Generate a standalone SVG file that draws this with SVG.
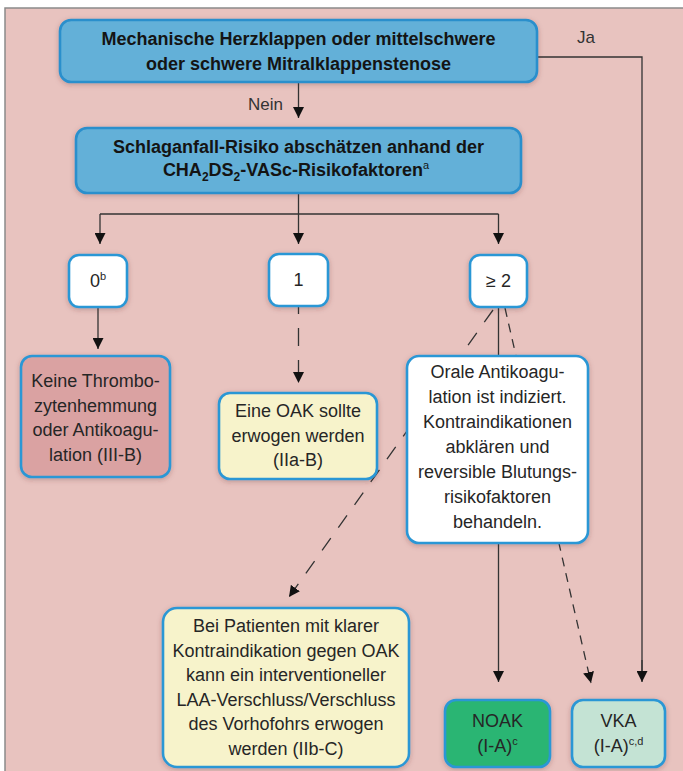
<svg xmlns="http://www.w3.org/2000/svg" width="683" height="771" viewBox="0 0 683 771">
<style>
.bx{stroke:#2b97d5;stroke-width:2.6;filter:url(#sh)}
.hd{fill:#63b0d8;stroke:#2a8fcc}
.ht{font-family:"Liberation Sans",Arial,sans-serif;font-weight:bold;font-size:18px;fill:#141414;text-anchor:middle}
.t{font-family:"Liberation Sans",Arial,sans-serif;font-size:18px;fill:#262626;text-anchor:middle}
.lb{font-family:"Liberation Sans",Arial,sans-serif;font-size:17px;fill:#333}
.ln{fill:none;stroke:#333;stroke-width:1.3}
.ar{marker-end:url(#ah)}
</style>
<defs>
<filter id="sh" x="-15%" y="-15%" width="130%" height="140%">
<feDropShadow dx="0" dy="1.5" stdDeviation="2.5" flood-color="#5a2a2a" flood-opacity="0.3"/>
</filter>
<marker id="ah" viewBox="0 0 10 10" refX="10" refY="5" markerUnits="userSpaceOnUse" markerWidth="11" markerHeight="11" orient="auto">
<path d="M0,0 L10,5 L0,10 z" fill="#111"/>
</marker>
</defs>
<rect x="0" y="0" width="683" height="771" fill="#ffffff"/>
<rect x="5" y="8" width="700" height="790" fill="#e8c3bf" stroke="#8a8a8a" stroke-width="1.5"/>

<g id="connectors">
<line class="ln ar" x1="298.5" y1="82" x2="298.5" y2="118"/>
<polyline class="ln" points="298.5,193 298.5,214"/>
<polyline class="ln" points="100,214 498.5,214"/>
<line class="ln ar" x1="100" y1="214" x2="100" y2="244"/>
<line class="ln ar" x1="298.5" y1="214" x2="298.5" y2="244"/>
<line class="ln ar" x1="498.5" y1="214" x2="498.5" y2="244"/>
<line class="ln ar" x1="98" y1="307" x2="98" y2="349"/>
<line class="ln ar" x1="298.5" y1="307" x2="298.5" y2="383" stroke-dasharray="18 14" stroke-dashoffset="11"/>
<line class="ln ar" x1="498.5" y1="307" x2="498.5" y2="682"/>
<line class="ln ar" x1="505" y1="308" x2="591" y2="683" stroke-dasharray="9 7"/>
<line class="ln ar" x1="493" y1="310" x2="289" y2="597" stroke-dasharray="15 13"/>
<polyline class="ln" points="537,57 642,57 642,672"/>
<line class="ln ar" x1="642" y1="660" x2="642" y2="682"/>
<text class="lb" x="283" y="110" text-anchor="end">Nein</text>
<text class="lb" x="586" y="43" text-anchor="middle">Ja</text>
</g>

<g id="n-klappen">
<rect class="bx hd" x="60" y="20" width="477" height="62" rx="11"/>
<text class="ht" x="298.5" y="45">Mechanische Herzklappen oder mittelschwere</text>
<text class="ht" x="298.5" y="70">oder schwere Mitralklappenstenose</text>
</g>

<g id="n-risiko">
<rect class="bx hd" x="76" y="128" width="445" height="65" rx="11"/>
<text class="ht" x="298.5" y="153">Schlaganfall-Risiko abschätzen anhand der</text>
<text class="ht" x="296" y="176">CHA<tspan dy="5" font-size="12">2</tspan><tspan dy="-5">DS</tspan><tspan dy="5" font-size="12">2</tspan><tspan dy="-5">-VASc-Risikofaktoren</tspan><tspan dy="-7" font-size="11" font-weight="normal">a</tspan></text>
</g>

<g id="n-0">
<rect class="bx" x="69" y="255" width="58" height="52" rx="10" fill="#ffffff"/>
<text class="t" x="98" y="287">0<tspan dy="-7" font-size="11">b</tspan></text>
</g>

<g id="n-1">
<rect class="bx" x="269" y="254" width="59" height="52" rx="10" fill="#ffffff"/>
<text class="t" x="298.5" y="286">1</text>
</g>

<g id="n-2">
<rect class="bx" x="470" y="255" width="57" height="52" rx="10" fill="#ffffff"/>
<text class="t" x="498.5" y="287">≥ 2</text>
</g>

<g id="n-keine">
<rect class="bx" x="21" y="356" width="149" height="121" rx="11" fill="#daa2a2"/>
<text class="t" x="95.5" y="387">Keine Thrombo-</text>
<text class="t" x="95.5" y="411.5">zytenhemmung</text>
<text class="t" x="95.5" y="436">oder Antikoagu-</text>
<text class="t" x="95.5" y="460.5">lation (III-B)</text>
</g>

<g id="n-oak">
<rect class="bx" x="219" y="393" width="158" height="86" rx="11" fill="#f7f3cb"/>
<text class="t" x="298" y="417">Eine OAK sollte</text>
<text class="t" x="298" y="442">erwogen werden</text>
<text class="t" x="298" y="466">(IIa-B)</text>
</g>

<g id="n-orale">
<rect class="bx" x="407" y="356" width="181" height="187" rx="12" fill="#ffffff"/>
<text class="t" x="497.5" y="378">Orale Antikoagu-</text>
<text class="t" x="497.5" y="403">lation ist indiziert.</text>
<text class="t" x="497.5" y="428">Kontraindikationen</text>
<text class="t" x="497.5" y="453">abklären und</text>
<text class="t" x="497.5" y="478">reversible Blutungs-</text>
<text class="t" x="497.5" y="503">risikofaktoren</text>
<text class="t" x="497.5" y="528">behandeln.</text>
</g>

<g id="n-laa">
<rect class="bx" x="163" y="608" width="246" height="159" rx="14" fill="#f7f3cb"/>
<text class="t" x="286" y="632">Bei Patienten mit klarer</text>
<text class="t" x="286" y="656.6">Kontraindikation gegen OAK</text>
<text class="t" x="286" y="681.2">kann ein interventioneller</text>
<text class="t" x="286" y="705.8">LAA-Verschluss/Verschluss</text>
<text class="t" x="286" y="730.4">des Vorhofohrs erwogen</text>
<text class="t" x="286" y="755">werden (IIb-C)</text>
</g>

<g id="n-noak">
<rect class="bx" x="445" y="700" width="105" height="67" rx="11" fill="#2bb573"/>
<text class="t" x="497.5" y="727">NOAK</text>
<text class="t" x="497.5" y="752">(I-A)<tspan dy="-7" font-size="11">c</tspan></text>
</g>

<g id="n-vka">
<rect class="bx" x="572" y="700" width="93" height="67" rx="11" fill="#c4e3d4"/>
<text class="t" x="618.5" y="727">VKA</text>
<text class="t" x="618.5" y="752">(I-A)<tspan dy="-7" font-size="11">c,d</tspan></text>
</g>
</svg>
